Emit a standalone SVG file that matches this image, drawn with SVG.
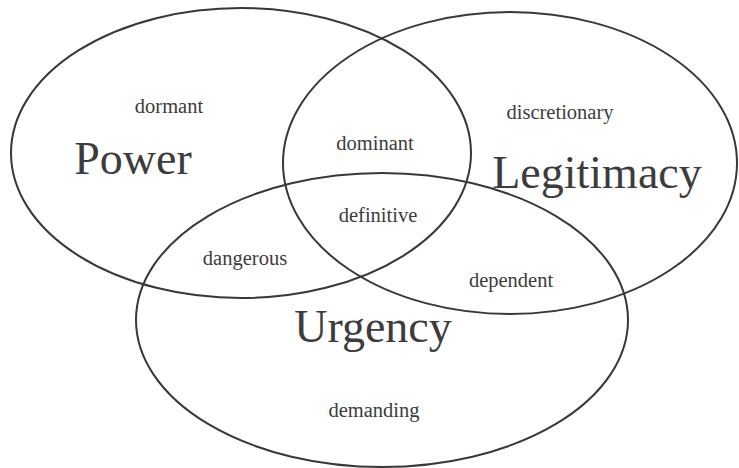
<svg xmlns="http://www.w3.org/2000/svg" width="739" height="468" viewBox="0 0 739 468">
<style>
.set{fill:none;stroke:#383838;stroke-width:2}
.lbl{font-family:"Liberation Serif","Times New Roman",serif;fill:#3c3c3c;text-anchor:middle}
.small{font-size:20.5px}
.big{font-size:46px}
</style>
<rect width="739" height="468" fill="#ffffff"/>
<g id="power">
<ellipse class="set" cx="241" cy="153" rx="230" ry="145"/>
<text class="lbl big" x="133" y="174">Power</text>
<text class="lbl small" x="169" y="113">dormant</text>
</g>
<g id="legitimacy">
<ellipse class="set" cx="510" cy="163" rx="227" ry="151"/>
<text class="lbl big" x="597" y="188">Legitimacy</text>
<text class="lbl small" x="560" y="119">discretionary</text>
</g>
<g id="urgency">
<ellipse class="set" cx="382" cy="320" rx="246" ry="147"/>
<text class="lbl big" x="373" y="342">Urgency</text>
<text class="lbl small" x="374" y="417">demanding</text>
</g>
<g id="overlaps">
<text class="lbl small" x="375" y="150">dominant</text>
<text class="lbl small" x="378" y="222">definitive</text>
<text class="lbl small" x="245" y="265">dangerous</text>
<text class="lbl small" x="511" y="287">dependent</text>
</g>
<g id="connectors"/>
</svg>
